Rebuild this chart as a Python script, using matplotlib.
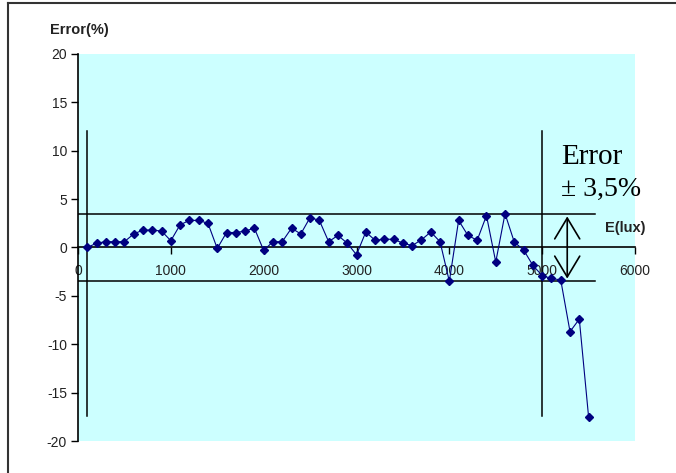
import numpy as np
import matplotlib.pyplot as plt
from matplotlib.lines import Line2D
from matplotlib.patches import FancyArrowPatch

# illuminance (lux) and measured error (%)
lux = [100, 200, 300, 400, 500, 600, 700, 800, 900, 1000,
       1100, 1200, 1300, 1400, 1500, 1600, 1700, 1800, 1900, 2000,
       2100, 2200, 2300, 2400, 2500, 2600, 2700, 2800, 2900, 3000,
       3100, 3200, 3300, 3400, 3500, 3600, 3700, 3800, 3900, 4000,
       4100, 4200, 4300, 4400, 4500, 4600, 4700, 4800, 4900, 5000,
       5100, 5200, 5300, 5400, 5500]
err = [0.0, 0.45, 0.6, 0.6, 0.6, 1.4, 1.8, 1.8, 1.7, 0.7,
       2.35, 2.8, 2.8, 2.5, -0.1, 1.55, 1.55, 1.7, 2.0, -0.3,
       0.6, 0.6, 2.0, 1.4, 3.1, 2.8, 0.6, 1.25, 0.45, -0.75,
       1.6, 0.75, 0.85, 0.85, 0.45, 0.2, 0.8, 1.6, 0.6, -3.5,
       2.8, 1.25, 0.75, 3.3, -1.5, 3.5, 0.55, -0.25, -1.85, -2.9,
       -3.2, -3.35, -8.7, -7.4, -17.5]

band = 3.5            # +/- error band
band_end = 5570       # where band lines stop
range_lines = [100, 5000]
range_span = [-17.4, 12]
arrow_x = 5270
xticks = [0, 1000, 2000, 3000, 4000, 5000, 6000]
yticks = [-20, -15, -10, -5, 0, 5, 10, 15, 20]

plt.rcParams['font.family'] = ['Liberation Sans', 'DejaVu Sans']
plt.rcParams['axes.unicode_minus'] = False

fig = plt.figure(figsize=(6.76, 4.73), dpi=100)
ax = fig.add_axes([78/676, 1-441/473, (635-78)/676, (441-54)/473])
ax.set_facecolor('#CCFFFF')

ax.plot(lux, err, color='#000080', lw=0.8, marker='D', markersize=4.5,
        markerfacecolor='#000080', markeredgecolor='#000080', zorder=4)

# error band lines
for yv in [band, -band]:
    ax.plot([0, band_end], [yv, yv], color='black', lw=1.1, zorder=3)
# range limits
for xv in range_lines:
    ax.plot([xv, xv], range_span, color='black', lw=1.1, zorder=3)

arr = FancyArrowPatch((arrow_x, band), (arrow_x, -band),
                      arrowstyle='<->,head_length=0.75,head_width=0.45',
                      mutation_scale=20, color='black', lw=1.2, zorder=5)
ax.add_patch(arr)

ax.text(5200, 9.4, 'Error', family='Liberation Serif', fontsize=21,
        ha='left', va='center')
ax.text(5200, 6.0, '\u00b1 3,5%', family='Liberation Serif', fontsize=20,
        ha='left', va='center')

ax.set_xlim(0, 6000)
ax.set_ylim(-20, 20)
ax.set_xticks(xticks)
ax.set_yticks(yticks)
ax.spines['top'].set_visible(False)
ax.spines['right'].set_visible(False)
ax.spines['bottom'].set_position(('data', 0))
ax.spines['bottom'].set_linewidth(1.2)
ax.spines['left'].set_linewidth(1.2)
ax.tick_params(axis='both', direction='out', length=5, width=1, labelsize=10,
               colors='black', labelcolor='#222222')
ax.tick_params(axis='x', pad=7)
ax.tick_params(axis='y', pad=3)

fig.text(50/676, 1-30/473, 'Error(%)', fontsize=10.5, weight='bold',
         color='#222222', ha='left', va='center')
fig.text(605/676, 1-228/473, 'E(lux)', fontsize=10.5, weight='bold',
         color='#222222', ha='left', va='center')

# border of the original picture (top and left edges only)
fig.add_artist(Line2D([8/676, 8/676], [0, 1-3/473], color='#333333', lw=1.5,
                      transform=fig.transFigure))
fig.add_artist(Line2D([8/676, 1], [1-3/473, 1-3/473], color='#333333', lw=1.5,
                      transform=fig.transFigure))

fig.savefig('out.png', dpi=100)
